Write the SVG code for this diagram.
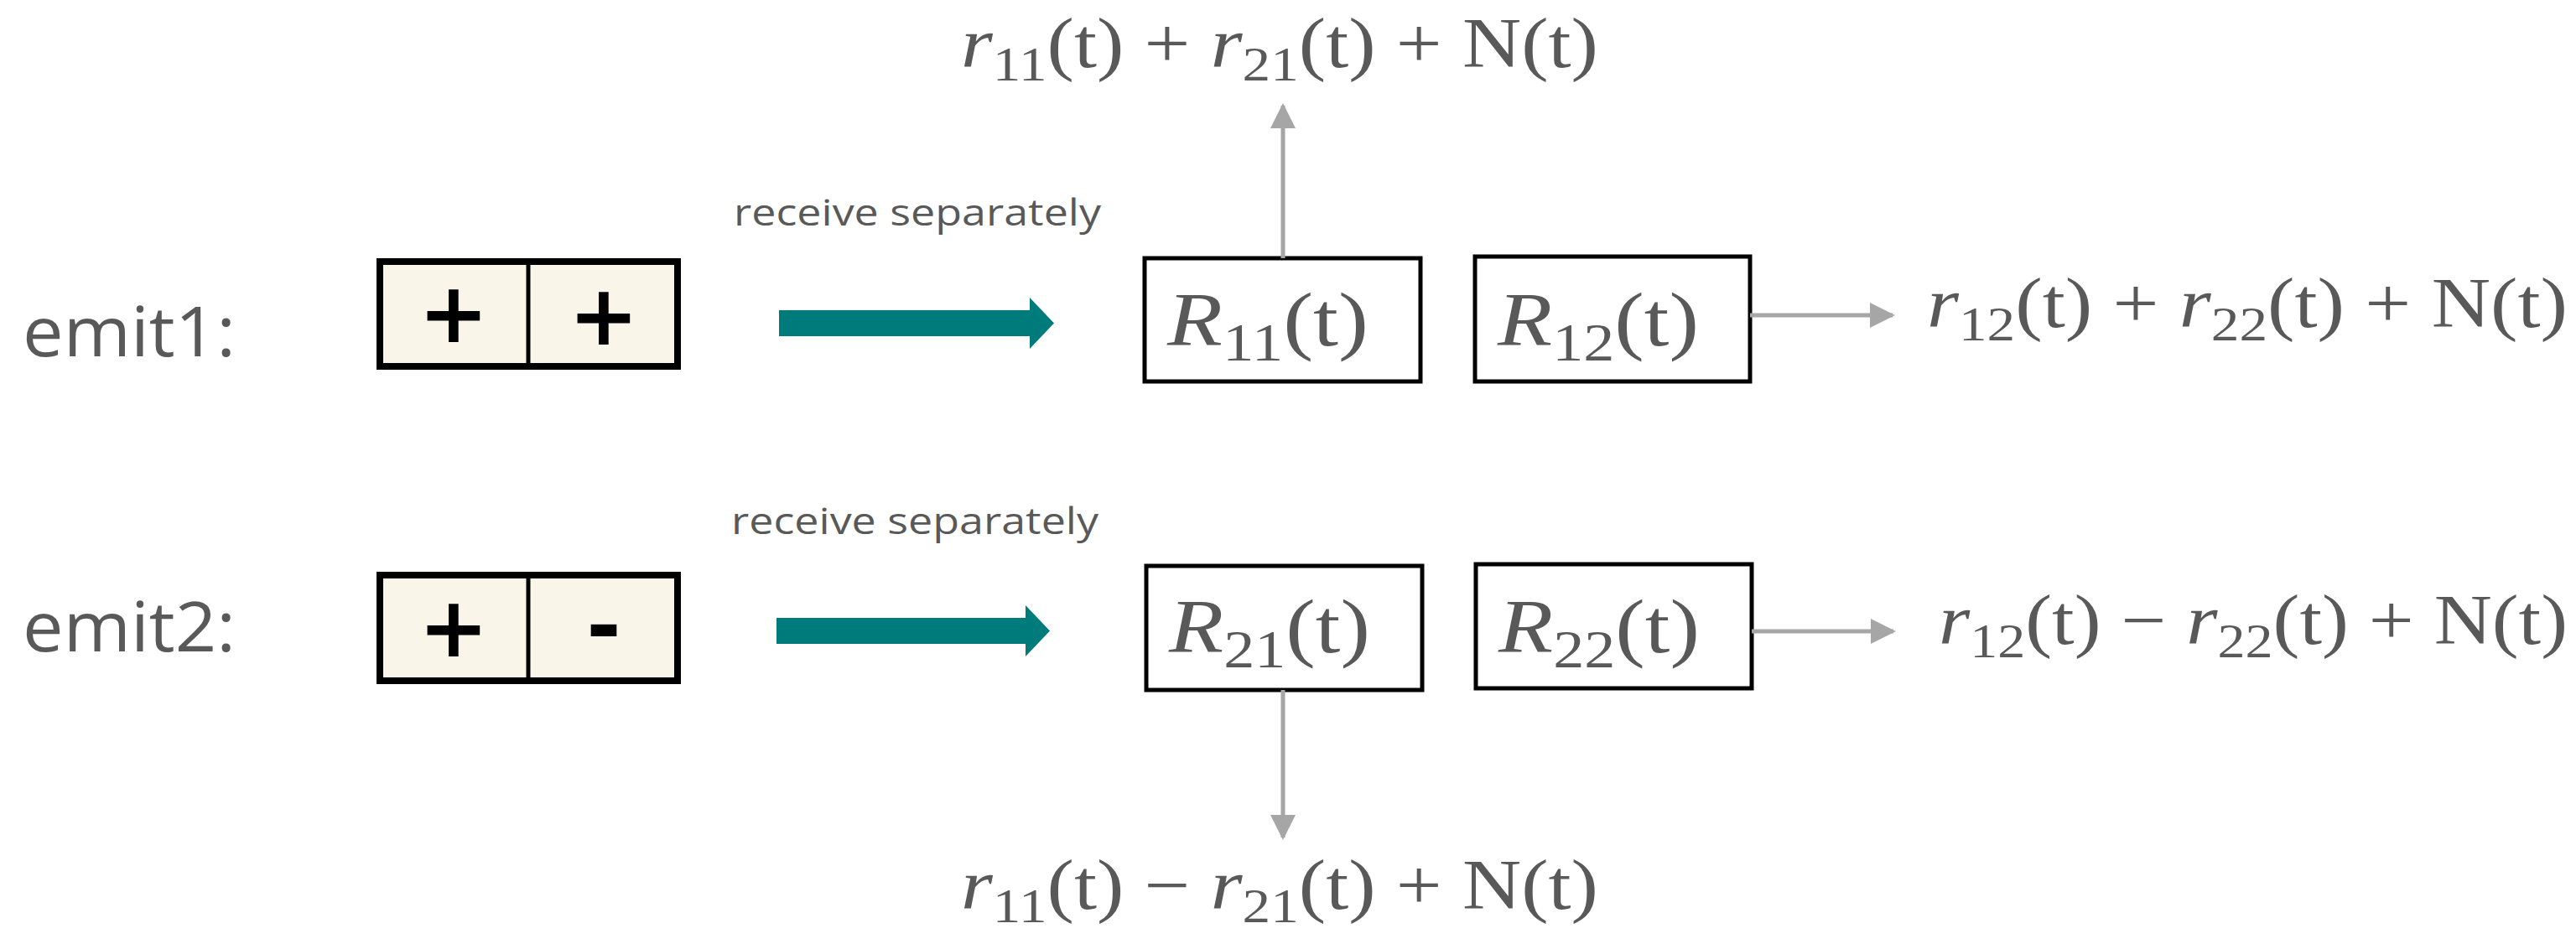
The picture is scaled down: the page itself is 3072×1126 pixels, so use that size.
<svg xmlns="http://www.w3.org/2000/svg" width="3072" height="1126" viewBox="0 0 3072 1126">
<style>
.lbl{font-family:"Open Sans","Liberation Sans",sans-serif;fill:#595959}
.m{font-family:"Liberation Serif",serif;fill:#595959}
.i{font-style:italic}
.box{fill:#fff;stroke:#000;stroke-width:5}
.cell{fill:#f9f6e9;stroke:#000;stroke-width:8}
.sign{font-family:"DejaVu Sans",sans-serif;font-weight:bold;font-size:100px;fill:#000;text-anchor:middle}
.g{stroke:#a6a6a6;stroke-width:5;fill:none}
</style>
<defs>
<marker id="ah" viewBox="0 0 10 10" refX="9" refY="5" markerWidth="6" markerHeight="6" markerUnits="strokeWidth" orient="auto"><path d="M0,0L10,5L0,10z" fill="#a6a6a6"/></marker>
</defs>
<rect width="3072" height="1126" fill="#fff"/>
<text class="lbl" x="27" y="425" font-size="82" textLength="254" lengthAdjust="spacingAndGlyphs">emit1:</text>
<text class="lbl" x="27" y="777" font-size="82" textLength="254" lengthAdjust="spacingAndGlyphs">emit2:</text>
<text class="lbl" x="875" y="269" font-size="44" textLength="438" lengthAdjust="spacingAndGlyphs">receive separately</text>
<text class="lbl" x="872" y="637" font-size="44" textLength="438" lengthAdjust="spacingAndGlyphs">receive separately</text>
<g id="emit1">
<rect class="cell" x="453" y="312" width="355" height="125"/>
<line x1="630" y1="312" x2="630" y2="437" stroke="#000" stroke-width="5"/>
<text class="sign" x="541" y="408">+</text><text class="sign" x="720" y="411">+</text>
</g>
<g id="emit2">
<rect class="cell" x="453" y="686" width="355" height="126"/>
<line x1="630" y1="686" x2="630" y2="812" stroke="#000" stroke-width="5"/>
<text class="sign" x="541" y="783">+</text><text class="sign" x="720" y="781">-</text>
</g>
<g id="R11"><rect class="box" x="1365" y="308" width="329" height="147"/>
<text class="m" x="1392" y="412" font-size="92" textLength="240" lengthAdjust="spacingAndGlyphs"><tspan class="i">R</tspan><tspan font-size="64" dy="18">11</tspan><tspan dy="-18">(t)</tspan></text></g>
<g id="R12"><rect class="box" x="1759" y="306" width="328" height="149"/>
<text class="m" x="1786" y="412" font-size="92" textLength="240" lengthAdjust="spacingAndGlyphs"><tspan class="i">R</tspan><tspan font-size="64" dy="18">12</tspan><tspan dy="-18">(t)</tspan></text></g>
<g id="R21"><rect class="box" x="1367" y="675" width="329" height="148"/>
<text class="m" x="1394" y="778" font-size="92" textLength="240" lengthAdjust="spacingAndGlyphs"><tspan class="i">R</tspan><tspan font-size="64" dy="18">21</tspan><tspan dy="-18">(t)</tspan></text></g>
<g id="R22"><rect class="box" x="1760" y="673" width="329" height="148"/>
<text class="m" x="1787" y="778" font-size="92" textLength="240" lengthAdjust="spacingAndGlyphs"><tspan class="i">R</tspan><tspan font-size="64" dy="18">22</tspan><tspan dy="-18">(t)</tspan></text></g>
<g id="connectors">
<path d="M929,370H1228V355L1257,385.5L1228,416V401H929z" fill="#007b7b"/>
<path d="M926,737H1223V722L1252,752.5L1223,783V768H926z" fill="#007b7b"/>
<line class="g" x1="1530" y1="308" x2="1530" y2="126" marker-end="url(#ah)"/>
<line class="g" x1="2087" y1="376" x2="2257" y2="376" marker-end="url(#ah)"/>
<line class="g" x1="2089" y1="753" x2="2258" y2="753" marker-end="url(#ah)"/>
<line class="g" x1="1530" y1="823" x2="1530" y2="999" marker-end="url(#ah)"/>
</g>
<text class="m" x="1146" y="80" font-size="84" textLength="760" lengthAdjust="spacingAndGlyphs"><tspan class="i">r</tspan><tspan font-size="58" dy="16">11</tspan><tspan dy="-16">(t) + </tspan><tspan class="i">r</tspan><tspan font-size="58" dy="16">21</tspan><tspan dy="-16">(t) + N(t)</tspan></text>
<text class="m" x="2298" y="390" font-size="84" textLength="764" lengthAdjust="spacingAndGlyphs"><tspan class="i">r</tspan><tspan font-size="58" dy="16">12</tspan><tspan dy="-16">(t) + </tspan><tspan class="i">r</tspan><tspan font-size="58" dy="16">22</tspan><tspan dy="-16">(t) + N(t)</tspan></text>
<text class="m" x="2312" y="768" font-size="84" textLength="750" lengthAdjust="spacingAndGlyphs"><tspan class="i">r</tspan><tspan font-size="58" dy="16">12</tspan><tspan dy="-16">(t) − </tspan><tspan class="i">r</tspan><tspan font-size="58" dy="16">22</tspan><tspan dy="-16">(t) + N(t)</tspan></text>
<text class="m" x="1146" y="1084" font-size="84" textLength="760" lengthAdjust="spacingAndGlyphs"><tspan class="i">r</tspan><tspan font-size="58" dy="16">11</tspan><tspan dy="-16">(t) − </tspan><tspan class="i">r</tspan><tspan font-size="58" dy="16">21</tspan><tspan dy="-16">(t) + N(t)</tspan></text>
</svg>
